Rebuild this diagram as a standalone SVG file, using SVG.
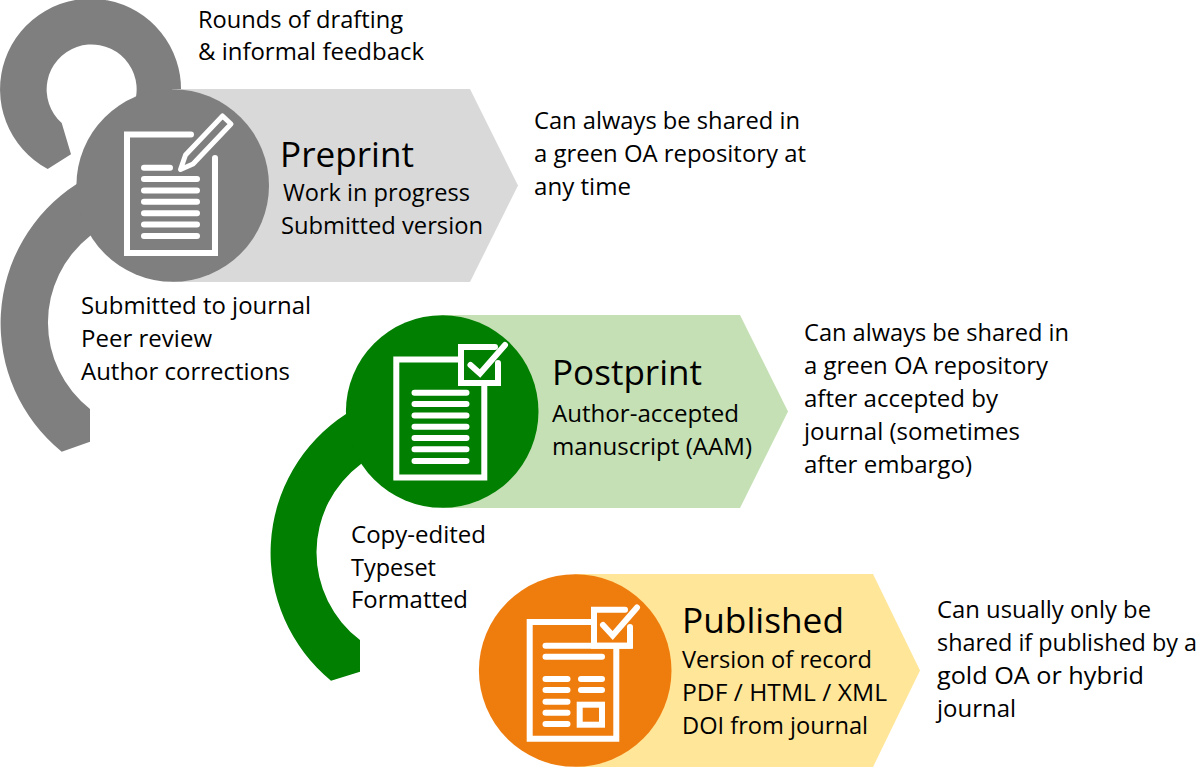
<svg xmlns="http://www.w3.org/2000/svg" width="1200" height="767" viewBox="0 0 1200 767">
<style>
text{font-family:"Open Sans","Noto Sans","Liberation Sans",sans-serif;font-size:23px;fill:#000}
text.h{font-size:35px}
.i{fill:none;stroke:#fff;stroke-width:6;stroke-linecap:round;stroke-linejoin:miter}
.p{stroke-width:5;stroke-linejoin:round}
.b{stroke-linecap:butt}
.g{fill:#7f7f7f}.gr{fill:#007f00}.o{fill:#ef7d0e}
</style>
<rect width="1200" height="767" fill="#fff"/>
<g id="connectors">
<path class="g" d="M181 92A90.500 90.500 0 1 0 47.700 169L71 154.300L61.700 123A45 45 0 1 1 136 97L170 120Z"/>
<path class="g" d="M76.700 184A165.500 165.500 0 0 0 61.700 451.700L90 441.700V409A110 110 0 0 1 90 236L130 200Z"/>
<path class="gr" d="M346 414A165.500 165.500 0 0 0 331 680.700L360 671.700V640A110 110 0 0 1 361 464L400 430Z"/>
</g>
<g id="preprint">
<path fill="#d9d9d9" d="M172 89H470L518 185.500L470 282H172Z"/>
<circle class="g" cx="172.700" cy="185.500" r="96.300"/>
<path class="i" d="M191 134.500H127V253H215V158M144 167.700H170M144 179H197M144 190.500H197M144 201.700H197M144 213.300H197M144 224.500H197M144 236H197"/>
<path class="i p" d="M180.500 169.500L185.500 155L222.500 116L231 124L193 164Z"/>
<text class="h" x="280" y="167" textLength="134" lengthAdjust="spacingAndGlyphs">Preprint</text>
<text x="283" y="201" textLength="187" lengthAdjust="spacingAndGlyphs">Work in progress</text>
<text x="281" y="234" textLength="202" lengthAdjust="spacingAndGlyphs">Submitted version</text>
</g>
<g id="postprint">
<path fill="#c5e0b4" d="M442 315H740L788 411.500L740 508H442Z"/>
<circle class="gr" cx="442.200" cy="411.500" r="96.300"/>
<path class="i b" d="M458 359.500H396.300V477.500H484.300V386"/>
<path class="i" d="M495 347H461V383H498V363"/>
<path class="i" d="M470.500 365L480 373.500L505 345"/>
<path class="i" d="M414.500 392.700H466.500M414.500 404H466.500M414.500 415.500H466.500M414.500 426.700H466.500M414.500 438H466.500M414.500 449.300H466.500M414.500 461H466.500"/>
<text class="h" x="552" y="385" textLength="150" lengthAdjust="spacingAndGlyphs">Postprint</text>
<text x="552" y="422" textLength="187" lengthAdjust="spacingAndGlyphs">Author-accepted</text>
<text x="552" y="455" textLength="200" lengthAdjust="spacingAndGlyphs">manuscript (AAM)</text>
</g>
<g id="published">
<path fill="#ffe699" d="M575 574H873L920 670.500L873 767H575Z"/>
<circle class="o" cx="575.200" cy="670.500" r="96.300"/>
<path class="i b" d="M591 622H529.700V738.700H616.300V648"/>
<path class="i" d="M625 609.700H594V645.700H630V627"/>
<path class="i" d="M603 625L612.700 635.500L637 607.500"/>
<path class="i" d="M545.500 645.700H630M545.500 656.700H602M545.500 679H567.500M545.500 690H567.500M545.500 701.700H567.500M545.500 712.700H567.500M545.500 724H567.500M581 679H602M581 690H602"/>
<rect class="i" x="579.700" y="704.700" width="22.300" height="20"/>
<text class="h" x="682" y="633" textLength="162" lengthAdjust="spacingAndGlyphs">Published</text>
<text x="682" y="668" textLength="190" lengthAdjust="spacingAndGlyphs">Version of record</text>
<text x="682" y="701" textLength="205" lengthAdjust="spacingAndGlyphs">PDF / HTML / XML</text>
<text x="682" y="734" textLength="186" lengthAdjust="spacingAndGlyphs">DOI from journal</text>
</g>
<g id="labels">
<text x="198" y="28" textLength="205" lengthAdjust="spacingAndGlyphs">Rounds of drafting</text>
<text x="198" y="60" textLength="226" lengthAdjust="spacingAndGlyphs">&amp; informal feedback</text>
<text x="534" y="129" textLength="266" lengthAdjust="spacingAndGlyphs">Can always be shared in</text>
<text x="534" y="162" textLength="272" lengthAdjust="spacingAndGlyphs">a green OA repository at</text>
<text x="534" y="195" textLength="97" lengthAdjust="spacingAndGlyphs">any time</text>
<text x="81" y="314" textLength="230" lengthAdjust="spacingAndGlyphs">Submitted to journal</text>
<text x="81" y="347" textLength="131" lengthAdjust="spacingAndGlyphs">Peer review</text>
<text x="81" y="380" textLength="209" lengthAdjust="spacingAndGlyphs">Author corrections</text>
<text x="804" y="341" textLength="265" lengthAdjust="spacingAndGlyphs">Can always be shared in</text>
<text x="804" y="374" textLength="244" lengthAdjust="spacingAndGlyphs">a green OA repository</text>
<text x="804" y="407" textLength="194" lengthAdjust="spacingAndGlyphs">after accepted by</text>
<text x="804" y="440" textLength="216" lengthAdjust="spacingAndGlyphs">journal (sometimes</text>
<text x="804" y="473" textLength="168" lengthAdjust="spacingAndGlyphs">after embargo)</text>
<text x="351" y="543" textLength="135" lengthAdjust="spacingAndGlyphs">Copy-edited</text>
<text x="351" y="576" textLength="85" lengthAdjust="spacingAndGlyphs">Typeset</text>
<text x="351" y="608" textLength="117" lengthAdjust="spacingAndGlyphs">Formatted</text>
<text x="937" y="618" textLength="214" lengthAdjust="spacingAndGlyphs">Can usually only be</text>
<text x="937" y="651" textLength="260" lengthAdjust="spacingAndGlyphs">shared if published by a</text>
<text x="937" y="684" textLength="207" lengthAdjust="spacingAndGlyphs">gold OA or hybrid</text>
<text x="937" y="717" textLength="79" lengthAdjust="spacingAndGlyphs">journal</text>
</g>
</svg>
